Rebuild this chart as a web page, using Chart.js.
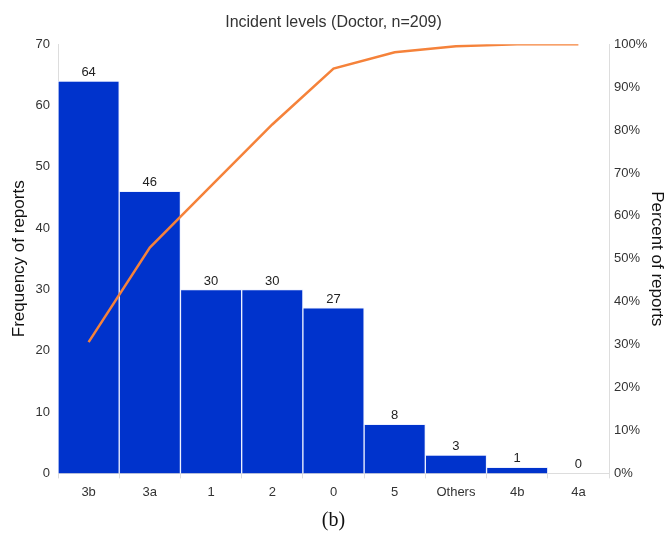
<!DOCTYPE html>
<html>
<head>
<meta charset="utf-8">
<script src="https://cdn.jsdelivr.net/npm/chart.js@4"></script>
<style>
  html, body { margin: 0; padding: 0; background: #fff; }
  #wrap { position: absolute; left: 0; top: 0; width: 667px; height: 511px; }
  #caption { position: absolute; left: 0; top: 508px; width: 667px; text-align: center;
    font-family: "Liberation Serif", "Times New Roman", serif; font-size: 20px; color: #111; }
</style>
</head>
<body>
<div id="wrap"><canvas id="c"></canvas></div>
<div id="caption">(b)</div>
<script>
const categories = ["3b", "3a", "1", "2", "0", "5", "Others", "4b", "4a"];
const frequency = [64, 46, 30, 30, 27, 8, 3, 1, 0];
const cumulativePercent = [30.6, 52.6, 67.0, 81.3, 94.3, 98.1, 99.5, 100, 100];
const leftTicks = [0, 10, 20, 30, 40, 50, 60, 70];
const rightTicks = [0, 10, 20, 30, 40, 50, 60, 70, 80, 90, 100];

const FONT = "'Liberation Sans', Arial, sans-serif";

const barLabels = {
  id: 'barLabels',
  afterDatasetsDraw(chart) {
    const ctx = chart.ctx;
    const meta = chart.getDatasetMeta(1);
    ctx.save();
    ctx.font = "13px " + FONT;
    ctx.fillStyle = '#222';
    ctx.textAlign = 'center';
    ctx.textBaseline = 'bottom';
    meta.data.forEach((el, i) => {
      ctx.fillText(String(frequency[i]), el.x, el.y - 2);
    });
    ctx.restore();
  }
};

new Chart(document.getElementById('c'), {
  data: {
    labels: categories,
    datasets: [
      {
        type: 'line',
        label: 'Cumulative %',
        data: cumulativePercent,
        yAxisID: 'y1',
        borderColor: '#F5823A',
        backgroundColor: '#F5823A',
        borderWidth: 2.5,
        pointRadius: 0,
        tension: 0,
        order: 0
      },
      {
        type: 'bar',
        label: 'Frequency',
        data: frequency,
        yAxisID: 'y',
        backgroundColor: '#0033CC',
        borderColor: 'rgba(235,240,255,0.9)',
        borderWidth: 1,
        borderSkipped: 'bottom',
        barPercentage: 1,
        categoryPercentage: 1,
        order: 1
      }
    ]
  },
  options: {
    responsive: true,
    maintainAspectRatio: false,
    animation: false,
    layout: { padding: { top: 0, left: 0, right: 0, bottom: 5 } },
    plugins: {
      legend: { display: false },
      tooltip: { enabled: false },
      title: {
        display: true,
        text: 'Incident levels (Doctor, n=209)',
        color: '#333',
        font: { family: FONT, size: 16, weight: 'normal' },
        padding: { top: 13, bottom: 12 }
      }
    },
    scales: {
      x: {
        grid: { display: true, offset: true, drawOnChartArea: false, drawTicks: true, tickLength: 5, color: '#ddd' },
        border: { color: '#ddd' },
        ticks: { color: '#333', font: { family: FONT, size: 13 }, padding: 6, maxRotation: 0 }
      },
      y: {
        position: 'left',
        min: 0, max: 70,
        afterBuildTicks(axis) { axis.ticks = leftTicks.map(v => ({ value: v })); },
        afterFit(scale) { scale.width = 58; },
        grid: { display: false, drawTicks: false, tickLength: 0 },
        border: { display: true, color: '#ddd' },
        ticks: { color: '#333', font: { family: FONT, size: 13 }, padding: 8 },
        title: { display: true, text: 'Frequency of reports', color: '#111', font: { family: FONT, size: 17 }, padding: { top: 9, bottom: 0 } }
      },
      y1: {
        position: 'right',
        min: 0, max: 100,
        afterBuildTicks(axis) { axis.ticks = rightTicks.map(v => ({ value: v })); },
        afterFit(scale) { scale.width = 58; },
        grid: { display: false, drawTicks: false, tickLength: 0 },
        border: { display: true, color: '#ddd' },
        ticks: { color: '#333', font: { family: FONT, size: 13 }, padding: 5, callback: v => v + '%' },
        title: { display: true, text: 'Percent of reports', color: '#111', font: { family: FONT, size: 17 }, padding: { top: 0, bottom: 0 } }
      }
    }
  },
  plugins: [barLabels]
});
</script>
</body>
</html>
